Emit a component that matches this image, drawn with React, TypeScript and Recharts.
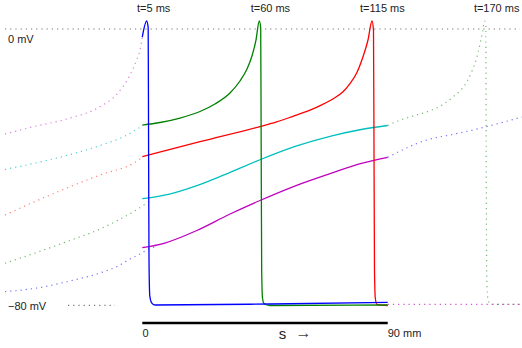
import React from 'react';
import { LineChart, Line, XAxis, YAxis, ReferenceDot } from 'recharts';

// s in mm, v in mV
const blueSolid: number[][] = [
  [0, -2.32], [1.61, 2.32], [2.16, 0.29], [2.31, -35.07], [2.46, -66.96], [2.75, -77.39],
  [3.37, -79.28], [4.66, -80.0], [46.8, -79.71], [90, -79.22],
];
const greenSolid: number[][] = [
  [0, -27.83], [6.49, -27.1], [13.82, -25.8], [21.16, -23.91], [26.65, -21.74], [32.15, -18.55],
  [35.82, -15.07], [38.39, -11.59], [40.22, -7.83], [41.69, -3.19], [42.9, 2.32], [43.42, 0.29],
  [43.6, -35.07], [43.78, -69.86], [44.08, -77.97], [44.63, -79.57], [46.83, -80.14], [90, -80.0],
];
const redSolid: number[][] = [
  [0, -37.01], [21.16, -32.67], [43.16, -28.26], [49.0, -27.0], [55.26, -25.3], [61.5, -23.5],
  [66.0, -21.9], [70.0, -20.2], [73.6, -18.2], [76.08, -15.9], [78.62, -12.75], [80.93, -8.03],
  [82.77, -3.19], [84.23, 2.32], [84.78, -0.29], [84.97, -35.07], [85.15, -69.86], [85.44, -77.97],
  [86.07, -79.86], [90, -80.14],
];
const cyanSolid: number[][] = [
  [0, -49.19], [10, -47.85], [20, -45.4], [30, -42.3], [43.16, -37.9], [56.62, -33.9],
  [68.83, -31.1], [79.83, -29.2], [90, -27.97],
];
const magentaSolid: number[][] = [
  [0, -63.39], [8, -62.1], [20, -58.4], [32, -53.7], [43.16, -49.7], [56.62, -45.3],
  [68.83, -41.9], [80, -39.0], [90, -37.19],
];

const magentaDotLeft: number[][] = [
  [-50.35, -30.43], [-39.97, -28.32], [-27.72, -26.09], [-15.51, -22.52], [-9.39, -18.93],
  [-4.51, -13.33], [-1.94, -8.7], [-0.84, -6.09], [0, -2.32],
];
const cyanDotLeft: number[][] = [
  [-50.35, -40.72], [-37.51, -38.55], [-27.72, -36.67], [-15.51, -33.77], [-6.34, -31.01], [0, -28.12],
];
const redDotLeft: number[][] = [
  [-50.35, -53.91], [-33.85, -48.12], [-15.51, -42.32], [-3.3, -38.93], [0, -37.25],
];
const greenDotLeft: number[][] = [
  [-50.35, -67.91], [-27.72, -61.65], [-15.51, -57.97], [-3.3, -52.96], [2.82, -49.86],
];
const blueDotLeft: number[][] = [
  [-50.35, -76.14], [-37.51, -74.93], [-27.72, -73.25], [-15.51, -70.72], [-9.39, -68.9],
  [-4.51, -66.67], [-0.84, -65.22], [2.82, -63.57], [5.39, -63.04],
];
const greenDotRight: number[][] = [
  [90, -27.97], [94.51, -26.4], [99.38, -25.22], [105.48, -23.68], [110.38, -21.83], [114.04, -19.62],
  [117.12, -17.39], [119.18, -15.07], [120.79, -12.38], [122.0, -9.94], [123.21, -6.58], [124.09, -3.48],
  [124.83, -0.58], [125.49, 2.32], [125.96, 0.87], [126.1, -35.07], [126.29, -69.86], [126.59, -77.39],
  [127.32, -79.42], [129.34, -79.8], [139.24, -79.8],
];
const blueDotRight: number[][] = [
  [90, -37.19], [104.29, -32.17], [114.04, -30.52], [123.83, -28.78], [133.0, -26.87], [139.24, -25.51],
];
const magentaDotBottom: number[][] = [[90, -79.8], [139.24, -79.8]];
const zeroLine: number[][] = [[-50.35, 0], [138.5, 0]];
const minus80Line: number[][] = [[-27.25, -80.1], [-10.0, -80.1]];
const scaleBar: number[][] = [[0, -85.22], [90, -85.22]];

const timeLabels = ['t=5 ms', 't=60 ms', 't=115 ms', 't=170 ms'];
const timeLabelS = [-1.94, 39.75, 79.83, 121.6];
const voltLabels = ['0 mV', '\u221280 mV'];
const voltLabelV = [-4.06, -81.45];

const toPts = (arr: number[][]) => arr.map(([s, v]) => ({ s, v }));

const C = {
  blue: '#0000ff',
  green: '#008000',
  red: '#ff0000',
  cyan: '#00bfbf',
  magenta: '#bf00bf',
};

const TXT = '#222';
const FONT = '"Liberation Sans", Arial, sans-serif';

const textShape = (label: string, opts: any = {}) => (p: any) => (
  <text
    x={p.cx}
    y={p.cy}
    fontFamily={FONT}
    fontSize={opts.size ?? 11}
    fill={opts.fill ?? TXT}
    textAnchor={opts.anchor ?? 'start'}
  >
    {label}
  </text>
);

export default function App() {
  const solid = (data: number[][], color: string, key: string) => (
    <Line
      key={key}
      data={toPts(data)}
      dataKey="v"
      stroke={color}
      strokeWidth={1.3}
      dot={false}
      activeDot={false}
      type="monotone"
      isAnimationActive={false}
    />
  );
  const dotted = (data: number[][], color: string, key: string, op = 0.6) => (
    <Line
      key={key}
      data={toPts(data)}
      dataKey="v"
      stroke={color}
      strokeOpacity={op}
      strokeWidth={1.2}
      strokeDasharray="1.2 4"
      dot={false}
      activeDot={false}
      type="monotone"
      isAnimationActive={false}
    />
  );
  return (
    <div style={{ position: 'absolute', left: 0, top: 0, background: '#fff' }}>
      <LineChart width={522} height={348} margin={{ top: 0, right: 0, bottom: 0, left: 0 }}>
        <XAxis dataKey="s" type="number" domain={[-52.18, 139.24]} allowDataOverflow hide />
        <YAxis type="number" domain={[-92.46, 8.41]} allowDataOverflow hide />
        {dotted(zeroLine, '#666', 'zero', 0.9)}
        {dotted(minus80Line, '#666', 'm80', 0.9)}
        {dotted(magentaDotLeft, C.magenta, 'mdl', 0.5)}
        {dotted(cyanDotLeft, C.cyan, 'cdl', 0.7)}
        {dotted(redDotLeft, C.red, 'rdl', 0.5)}
        {dotted(greenDotLeft, C.green, 'gdl', 0.55)}
        {dotted(blueDotLeft, C.blue, 'bdl', 0.55)}
        {dotted(greenDotRight, C.green, 'gdr', 0.55)}
        {dotted(blueDotRight, C.blue, 'bdr', 0.55)}
        {dotted(magentaDotBottom, C.magenta, 'mdb', 0.7)}
        {solid(cyanSolid, C.cyan, 'cs')}
        {solid(magentaSolid, C.magenta, 'ms')}
        {solid(redSolid, C.red, 'rs')}
        {solid(greenSolid, C.green, 'gs')}
        {solid(blueSolid, C.blue, 'bs')}
        <Line
          data={toPts(scaleBar)}
          dataKey="v"
          stroke="#000"
          strokeWidth={2.5}
          dot={false}
          activeDot={false}
          isAnimationActive={false}
        />
        {timeLabels.map((t, i) => (
          <ReferenceDot key={t} x={timeLabelS[i]} y={5.0} r={0} shape={textShape(t)} />
        ))}
        {voltLabels.map((t, i) => (
          <ReferenceDot key={t} x={-49.25} y={voltLabelV[i]} r={0} shape={textShape(t)} />
        ))}
        <ReferenceDot x={0.1} y={-89.3} r={0} shape={textShape('0')} />
        <ReferenceDot x={90} y={-89.3} r={0} shape={textShape('90 mm')} />
        <ReferenceDot x={50.0} y={-89.9} r={0} shape={textShape('s', { size: 15 })} />
        <ReferenceDot x={56.2} y={-89.6} r={0} shape={textShape('\u2192', { size: 16, fill: '#444' })} />
      </LineChart>
    </div>
  );
}
